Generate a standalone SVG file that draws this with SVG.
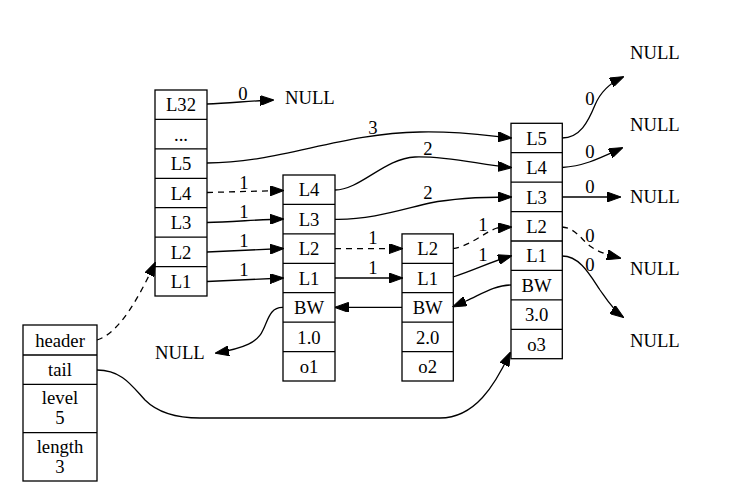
<svg xmlns="http://www.w3.org/2000/svg" width="731" height="493" viewBox="0 0 731 493">
<style>
.box{fill:#fff;stroke:#000;stroke-width:1.3}
.row{fill:none;stroke:#000;stroke-width:1.3}
text{font-family:"Liberation Serif","Times New Roman",serif;font-size:18.67px;fill:#000;text-anchor:middle}
.lbl{text-anchor:start}
.e{fill:none;stroke:#000;stroke-width:1.3;marker-end:url(#ah)}
.d{stroke-dasharray:6,5}
</style>
<defs>
<marker id="ah" markerUnits="userSpaceOnUse" markerWidth="14" markerHeight="10" viewBox="0 0 14 10" refX="13" refY="5" orient="auto">
<path d="M0,0 L14,5 L0,10 z" fill="#000" stroke="#000" stroke-width="1"/>
</marker>
</defs>
<rect width="731" height="493" fill="#fff"/>

<g id="zsl">
<rect class="box" x="23" y="325" width="74" height="156"/>
<path class="row" d="M23,355H97M23,384.3H97M23,432.7H97"/>
<text x="60" y="346.5">header</text>
<text x="60" y="376">tail</text>
<text x="60" y="404">level</text>
<text x="60" y="424">5</text>
<text x="60" y="452.5">length</text>
<text x="60" y="472.5">3</text>
</g>

<g id="header">
<rect class="box" x="155" y="90" width="52" height="206"/>
<path class="row" d="M155,119.4H207M155,148.9H207M155,178.3H207M155,207.7H207M155,237.1H207M155,266.6H207"/>
<text x="181" y="111">L32</text>
<text x="181" y="140.5">...</text>
<text x="181" y="170">L5</text>
<text x="181" y="199.5">L4</text>
<text x="181" y="229">L3</text>
<text x="181" y="258.5">L2</text>
<text x="181" y="288">L1</text>
</g>

<g id="o1">
<rect class="box" x="283" y="175" width="52" height="206"/>
<path class="row" d="M283,204.4H335M283,233.9H335M283,263.3H335M283,292.7H335M283,322.1H335M283,351.6H335"/>
<text x="309" y="196">L4</text>
<text x="309" y="225.5">L3</text>
<text x="309" y="255">L2</text>
<text x="309" y="284.5">L1</text>
<text x="309" y="314">BW</text>
<text x="309" y="343.5">1.0</text>
<text x="309" y="373">o1</text>
</g>

<g id="o2">
<rect class="box" x="402" y="233.9" width="51.3" height="147.1"/>
<path class="row" d="M402,263.3H453.3M402,292.7H453.3M402,322.1H453.3M402,351.6H453.3"/>
<text x="427.7" y="255">L2</text>
<text x="427.7" y="284.5">L1</text>
<text x="427.7" y="314">BW</text>
<text x="427.7" y="343.5">2.0</text>
<text x="427.7" y="373">o2</text>
</g>

<g id="o3">
<rect class="box" x="511" y="123.3" width="51.3" height="235.4"/>
<path class="row" d="M511,152.7H562.3M511,182.2H562.3M511,211.6H562.3M511,241H562.3M511,270.4H562.3M511,299.9H562.3M511,329.3H562.3"/>
<text x="536.6" y="144.5">L5</text>
<text x="536.6" y="174">L4</text>
<text x="536.6" y="203.5">L3</text>
<text x="536.6" y="233">L2</text>
<text x="536.6" y="262">L1</text>
<text x="536.6" y="291.5">BW</text>
<text x="536.6" y="321">3.0</text>
<text x="536.6" y="350.5">o3</text>
</g>

<g id="nulls">
<text class="lbl" x="285" y="104">NULL</text>
<text class="lbl" x="155" y="359">NULL</text>
<text class="lbl" x="630" y="59">NULL</text>
<text class="lbl" x="630" y="131">NULL</text>
<text class="lbl" x="630" y="203">NULL</text>
<text class="lbl" x="630" y="275">NULL</text>
<text class="lbl" x="630" y="347">NULL</text>
</g>

<g id="connectors">
<path class="e d" d="M97,340 C120,333 140,295 155,263"/>
<path class="e" d="M97,370 C122,370 132,386 145,400 C158,413 178,418 200,418 L440,418 C475,418 495,385 510,353"/>
<path class="e" d="M207,104 C230,103 250,101 273,100"/>
<path class="e" d="M207,163 C280,163 340,133 420,132 C460,131 490,136 511,138"/>
<path class="e d" d="M207,192.5 L283,190.5"/>
<path class="e" d="M207,222.5 C230,222 260,219.5 283,219"/>
<path class="e" d="M207,252 L283,248.5"/>
<path class="e" d="M207,281.5 L283,278"/>
<path class="e" d="M335,190 C360,190 385,158 415,157 C450,156 480,165 511,167.5"/>
<path class="e" d="M335,219.3 C370,220 400,210 430,203 C460,197 490,197 511,197"/>
<path class="e d" d="M335,248.6 L402,248.6"/>
<path class="e" d="M335,278 L402,278"/>
<path class="e d" d="M453,248.6 C470,246 485,232 497,228 L511,227"/>
<path class="e" d="M453,277 C475,270 490,262 511,256"/>
<path class="e" d="M511,285 C495,285 480,295 466,301 L453.5,306.5"/>
<path class="e" d="M402,307.4 L335.5,307.4"/>
<path class="e" d="M283,307.4 C270,307 268,320 263,330 C258,342 245,348 216,353"/>
<path class="e" d="M562,138 C580,138 588,122 595,105 C600,93 610,83 623,77"/>
<path class="e" d="M562,167.5 C585,166 600,158 622,148"/>
<path class="e" d="M562,197 L620,197"/>
<path class="e d" d="M562,227 C575,228 580,238 590,246 C598,252 608,255 620,258"/>
<path class="e" d="M562,256 C580,256 590,275 600,290 C607,300 613,310 623,317"/>
<g id="labels">
<text x="243" y="100">0</text>
<text x="373" y="134">3</text>
<text x="244" y="189">1</text>
<text x="244" y="218">1</text>
<text x="244" y="247">1</text>
<text x="244" y="276">1</text>
<text x="428" y="155">2</text>
<text x="428" y="199">2</text>
<text x="373" y="244">1</text>
<text x="373" y="274">1</text>
<text x="483" y="231">1</text>
<text x="483" y="261">1</text>
<text x="590" y="105">0</text>
<text x="590" y="158">0</text>
<text x="590" y="193">0</text>
<text x="590" y="242">0</text>
<text x="590" y="271">0</text>
</g>
</g>
</svg>
